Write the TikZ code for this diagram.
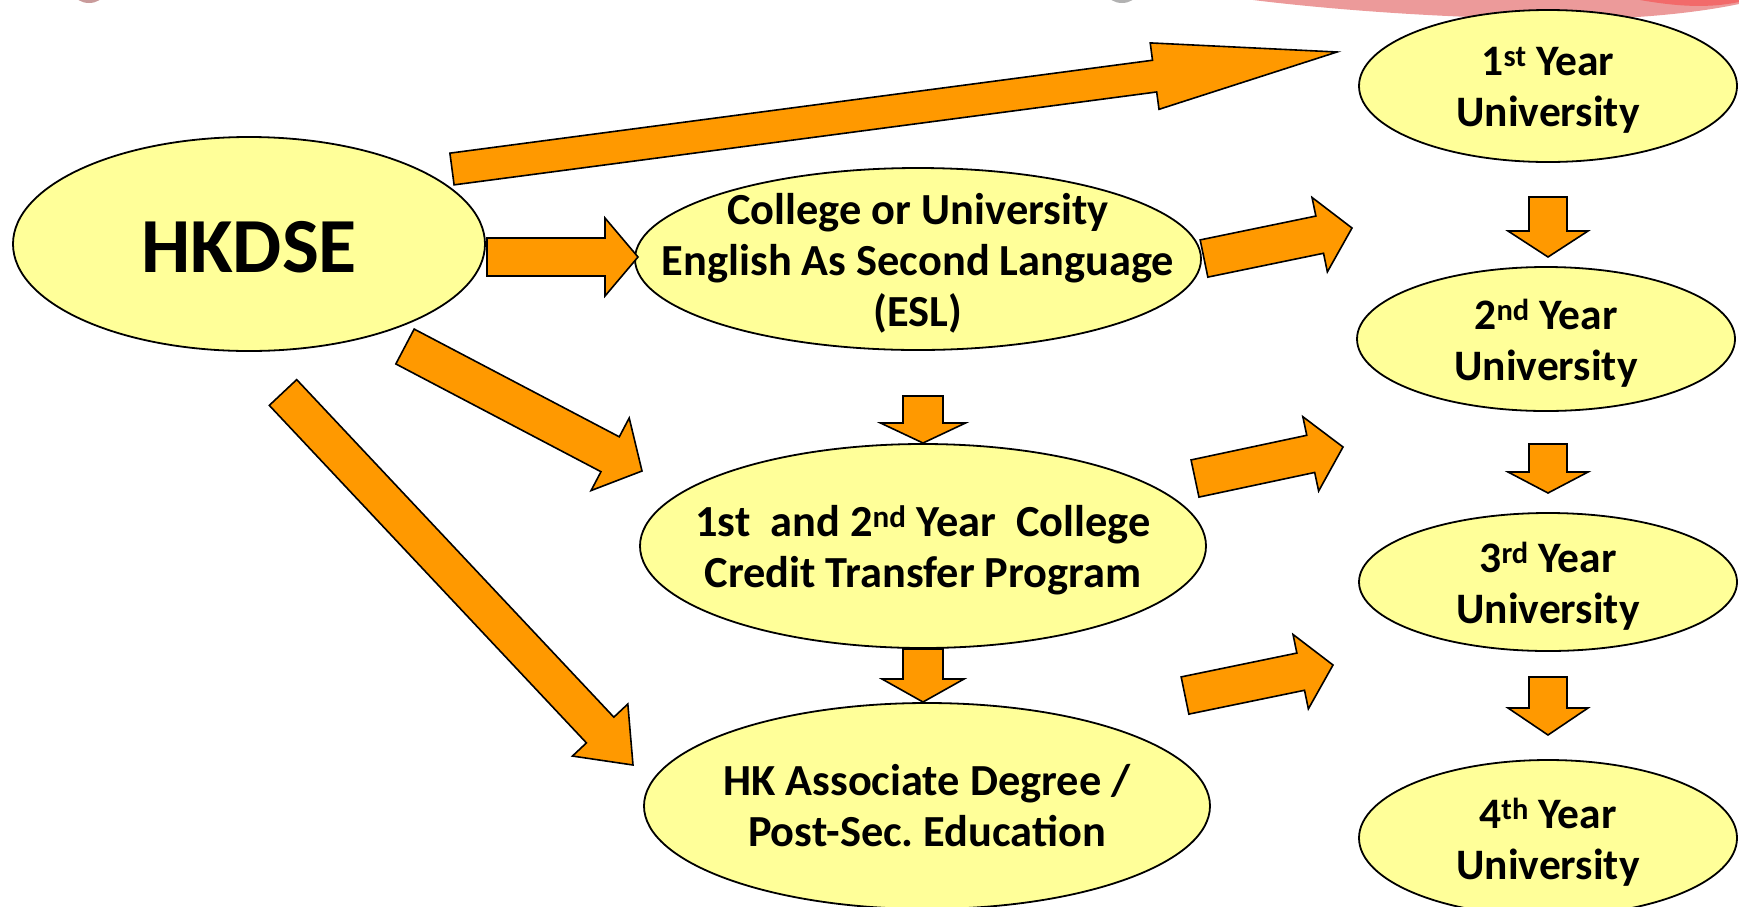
\documentclass[tikz,border=0pt]{standalone}
\usepackage{fontspec}
\setmainfont{Carlito}
\usetikzlibrary{shapes.geometric,calc}
\definecolor{ellfill}{HTML}{FFFF99}
\definecolor{arrfill}{HTML}{FF9900}
\definecolor{swoosh}{HTML}{EC9A9A}
\definecolor{swooshdark}{HTML}{F26A6A}
\newcommand\blockarrow[5]{%
  \coordinate (hb) at ($(#2)!#5pt!(#1)$);
  \draw[barrow] ($(#1)!#3pt!90:(#2)$) -- ($(hb)!#3pt!-90:(#1)$) -- ($(hb)!#4pt!-90:(#1)$) -- (#2)
    -- ($(hb)!#4pt!90:(#1)$) -- ($(hb)!#3pt!90:(#1)$) -- ($(#1)!#3pt!-90:(#2)$) -- cycle;
}
\frenchspacing
\begin{document}
\begin{tikzpicture}[x=1pt,y=-1pt,
  ell/.style={ellipse, draw=black, line width=1.8pt, fill=ellfill, inner sep=0pt},
  txt/.style={align=center, inner sep=0pt, yshift=-4.5pt, font=\fontsize{43.5}{51}\selectfont\bfseries},
  midtxt/.style={txt, font=\fontsize{44.4}{51}\selectfont\bfseries},
  barrow/.style={draw=black, line width=1.6pt, fill=arrfill, line join=miter}]
\useasboundingbox (0,0) rectangle (1739,906);
\fill[white] (0,0) rectangle (1739,906);
% top decorations
\fill[swoosh] (1253,0) .. controls (1350,12) and (1500,22) .. (1620,18) .. controls (1680,15) and (1720,8) .. (1739,4) -- (1739,0) -- cycle;
\fill[swooshdark] (1640,0) .. controls (1680,7) and (1710,8) .. (1739,2) -- (1739,0) -- cycle;
\fill[gray!70!red, opacity=0.6] (89,-6) ellipse (14 and 9);
\fill[gray, opacity=0.6] (1122,-6) ellipse (14 and 9);
% ellipses
\node[ell, minimum width=472pt, minimum height=214pt] (hkdse) at (249,244) {};
\node[ell, minimum width=566pt, minimum height=182pt] (esl) at (918,259) {};
\node[ell, minimum width=566pt, minimum height=204pt] (credit) at (923,546) {};
\node[ell, minimum width=566pt, minimum height=206pt] (hkad) at (927,806) {};
\node[ell, minimum width=378pt, minimum height=152pt] (y1) at (1548,86) {};
\node[ell, minimum width=378pt, minimum height=144pt] (y2) at (1546,339) {};
\node[ell, minimum width=378pt, minimum height=138pt] (y3) at (1548,582) {};
\node[ell, minimum width=378pt, minimum height=156pt] (y4) at (1548,838) {};
% texts
\node[txt, yshift=1pt, font=\fontsize{78}{80}\selectfont\bfseries] (thkdse) at (hkdse.center) {HKDSE};
\node[midtxt] (tesl) at (esl.center) {College or University\\English As Second Language\\(ESL)};
\node[midtxt] (tcredit) at (credit.center) {1st\ \ and 2\textsuperscript{nd} Year\ \ College\\Credit Transfer Program};
\node[midtxt, yshift=4.5pt] (thkad) at (hkad.center) {HK Associate Degree /\\Post-Sec. Education};
\node[txt] (ty1) at (y1.center) {1\textsuperscript{st} Year\\University};
\node[txt] (ty2) at (y2.center) {2\textsuperscript{nd} Year\\University};
\node[txt] (ty3) at (y3.center) {3\textsuperscript{rd} Year\\University};
\node[txt] (ty4) at (y4.center) {4\textsuperscript{th} Year\\University};
% arrow anchor coordinates
\coordinate (a1s) at (452,169);   \coordinate (a1e) at (1337,52);
\coordinate (a2s) at (487,257);   \coordinate (a2e) at (638,257);
\coordinate (a3s) at (405,346.5); \coordinate (a3e) at (642,471);
\coordinate (a4s) at (283,392.5); \coordinate (a4e) at (633,765);
\coordinate (a5s) at (1204,258.5);\coordinate (a5e) at (1352,228);
\coordinate (a6s) at (1195,478.5);\coordinate (a6e) at (1343,447);
\coordinate (a7s) at (1185,695.5);\coordinate (a7e) at (1333,665);
\coordinate (d1s) at (923,396);   \coordinate (d1e) at (923,443);
\coordinate (d2s) at (923,649);   \coordinate (d2e) at (923,702);
\coordinate (d3s) at (1548,197);  \coordinate (d3e) at (1548,257);
\coordinate (d4s) at (1548,444);  \coordinate (d4e) at (1548,493);
\coordinate (d5s) at (1548,677);  \coordinate (d5e) at (1548,735);
% arrows
\blockarrow{a1s}{a1e}{16}{33.5}{184}
\blockarrow{a2s}{a2e}{19}{39}{33}
\blockarrow{a3s}{a3e}{19.7}{41}{36}
\blockarrow{a4s}{a4e}{18.8}{38}{48}
\blockarrow{a5s}{a5e}{19}{38}{33}
\blockarrow{a6s}{a6e}{19}{38}{33}
\blockarrow{a7s}{a7e}{19}{38}{33}
\blockarrow{d1s}{d1e}{20}{42.5}{20}
\blockarrow{d2s}{d2e}{20}{41}{23}
\blockarrow{d3s}{d3e}{19}{40}{26}
\blockarrow{d4s}{d4e}{19}{40}{21}
\blockarrow{d5s}{d5e}{19}{40}{27}
\end{tikzpicture}
\end{document}
